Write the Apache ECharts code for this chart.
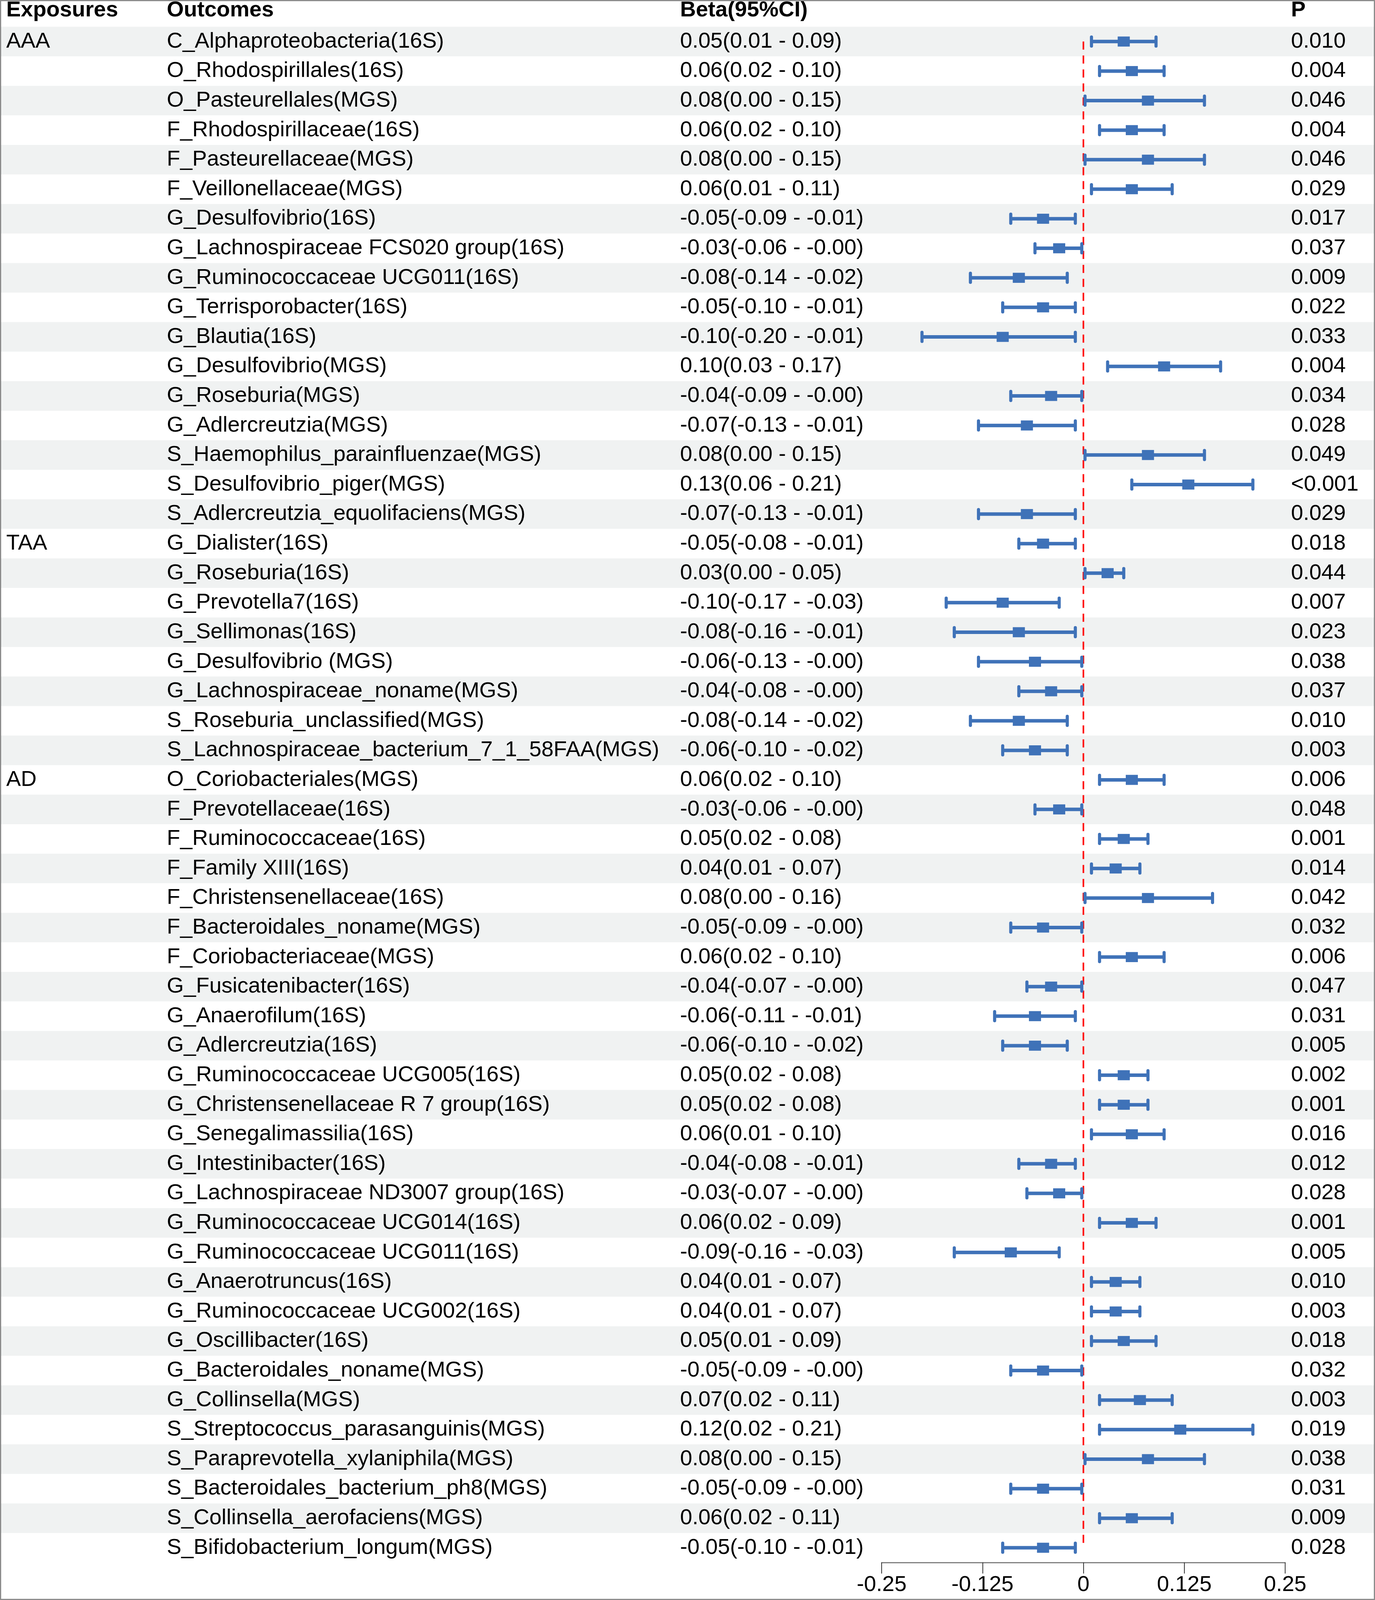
<!DOCTYPE html>
<html>
<head>
<meta charset="utf-8">
<script src="https://cdn.jsdelivr.net/npm/echarts@6/dist/echarts.min.js"></script>
<style>
html, body { margin: 0; padding: 0; background: #fff; overflow: hidden; }
#container { width: 100vw; height: 100vh; }
</style>
</head>
<body>
<div id="container"></div>
<script>
// exposure groups, in row order
const exposureNames = ['AAA', 'TAA', 'AD'];
const exposureCounts = [17, 8, 27];

const outcomes = [
    'C_Alphaproteobacteria(16S)', 'O_Rhodospirillales(16S)', 'O_Pasteurellales(MGS)',
    'F_Rhodospirillaceae(16S)', 'F_Pasteurellaceae(MGS)', 'F_Veillonellaceae(MGS)',
    'G_Desulfovibrio(16S)', 'G_Lachnospiraceae FCS020 group(16S)', 'G_Ruminococcaceae UCG011(16S)',
    'G_Terrisporobacter(16S)', 'G_Blautia(16S)', 'G_Desulfovibrio(MGS)', 'G_Roseburia(MGS)',
    'G_Adlercreutzia(MGS)', 'S_Haemophilus_parainfluenzae(MGS)', 'S_Desulfovibrio_piger(MGS)',
    'S_Adlercreutzia_equolifaciens(MGS)',
    'G_Dialister(16S)', 'G_Roseburia(16S)', 'G_Prevotella7(16S)', 'G_Sellimonas(16S)',
    'G_Desulfovibrio (MGS)', 'G_Lachnospiraceae_noname(MGS)', 'S_Roseburia_unclassified(MGS)',
    'S_Lachnospiraceae_bacterium_7_1_58FAA(MGS)',
    'O_Coriobacteriales(MGS)', 'F_Prevotellaceae(16S)', 'F_Ruminococcaceae(16S)', 'F_Family XIII(16S)',
    'F_Christensenellaceae(16S)', 'F_Bacteroidales_noname(MGS)', 'F_Coriobacteriaceae(MGS)',
    'G_Fusicatenibacter(16S)', 'G_Anaerofilum(16S)', 'G_Adlercreutzia(16S)',
    'G_Ruminococcaceae UCG005(16S)', 'G_Christensenellaceae R 7 group(16S)', 'G_Senegalimassilia(16S)',
    'G_Intestinibacter(16S)', 'G_Lachnospiraceae ND3007 group(16S)', 'G_Ruminococcaceae UCG014(16S)',
    'G_Ruminococcaceae UCG011(16S)', 'G_Anaerotruncus(16S)', 'G_Ruminococcaceae UCG002(16S)',
    'G_Oscillibacter(16S)', 'G_Bacteroidales_noname(MGS)', 'G_Collinsella(MGS)',
    'S_Streptococcus_parasanguinis(MGS)', 'S_Paraprevotella_xylaniphila(MGS)',
    'S_Bacteroidales_bacterium_ph8(MGS)', 'S_Collinsella_aerofaciens(MGS)', 'S_Bifidobacterium_longum(MGS)'
];

const beta = [
    0.05, 0.06, 0.08, 0.06, 0.08, 0.06, -0.05, -0.03, -0.08, -0.05, -0.10, 0.10, -0.04, -0.07, 0.08, 0.13, -0.07,
    -0.05, 0.03, -0.10, -0.08, -0.06, -0.04, -0.08, -0.06,
    0.06, -0.03, 0.05, 0.04, 0.08, -0.05, 0.06, -0.04, -0.06, -0.06, 0.05, 0.05, 0.06, -0.04, -0.03,
    0.06, -0.09, 0.04, 0.04, 0.05, -0.05, 0.07, 0.12, 0.08, -0.05, 0.06, -0.05
];

const lower = [
    0.01, 0.02, 0.002, 0.02, 0.002, 0.01, -0.09, -0.06, -0.14, -0.10, -0.20, 0.03, -0.09, -0.13, 0.002, 0.06, -0.13,
    -0.08, 0.002, -0.17, -0.16, -0.13, -0.08, -0.14, -0.10,
    0.02, -0.06, 0.02, 0.01, 0.002, -0.09, 0.02, -0.07, -0.11, -0.10, 0.02, 0.02, 0.01, -0.08, -0.07,
    0.02, -0.16, 0.01, 0.01, 0.01, -0.09, 0.02, 0.02, 0.002, -0.09, 0.02, -0.10
];

const upper = [
    0.09, 0.10, 0.15, 0.10, 0.15, 0.11, -0.01, -0.002, -0.02, -0.01, -0.01, 0.17, -0.002, -0.01, 0.15, 0.21, -0.01,
    -0.01, 0.05, -0.03, -0.01, -0.002, -0.002, -0.02, -0.02,
    0.10, -0.002, 0.08, 0.07, 0.16, -0.002, 0.10, -0.002, -0.01, -0.02, 0.08, 0.08, 0.10, -0.01, -0.002,
    0.09, -0.03, 0.07, 0.07, 0.09, -0.002, 0.11, 0.21, 0.15, -0.002, 0.11, -0.01
];

const pValues = [
    '0.010', '0.004', '0.046', '0.004', '0.046', '0.029', '0.017', '0.037', '0.009', '0.022', '0.033',
    '0.004', '0.034', '0.028', '0.049', '<0.001', '0.029',
    '0.018', '0.044', '0.007', '0.023', '0.038', '0.037', '0.010', '0.003',
    '0.006', '0.048', '0.001', '0.014', '0.042', '0.032', '0.006', '0.047', '0.031', '0.005', '0.002',
    '0.001', '0.016', '0.012', '0.028', '0.001', '0.005', '0.010', '0.003', '0.018', '0.032', '0.003',
    '0.019', '0.038', '0.031', '0.009', '0.028'
];

const xTicks = [-0.25, -0.125, 0, 0.125, 0.25];

window.onload = function () {
    const dom = document.getElementById('container');
    const myChart = echarts.init(dom, null, { renderer: 'canvas' });

    // layout is drawn for a 3520 x 4930 page and stretched to the real viewport
    const W = dom.clientWidth, H = dom.clientHeight;
    const sx = W / 3520, sy = H / 4930;

    const FONT = '"Liberation Sans", Arial, sans-serif';
    const FS = 56 * sx;
    const BLUE = '#3F72B8';
    const colExposure = 16 * sx, colOutcome = 427 * sx, colBeta = 1741 * sx, colP = 3305 * sx;

    // exposure label on the first row of each group
    const exposureOfRow = outcomes.map(() => '');
    let start = 0;
    exposureNames.forEach(function (name, i) {
        exposureOfRow[start] = name;
        start += exposureCounts[i];
    });

    const rows = outcomes.map((o, i) => i);
    const ciText = beta.map(function (b, i) {
        return b.toFixed(2) + '(' + lower[i].toFixed(2) + ' - ' + upper[i].toFixed(2) + ')';
    });

    function txt(s, x, y, bold) {
        return {
            type: 'text',
            x: x, y: y,
            style: {
                text: s, fill: '#000', fontSize: FS, fontFamily: FONT,
                fontWeight: bold ? 'bold' : 'normal',
                align: 'left', verticalAlign: 'middle'
            }
        };
    }

    const option = {
        animation: false,
        backgroundColor: '#fff',
        grid: {
            left: 2257 * sx,
            width: 1033 * sx,
            top: 82.5 * sy,
            height: 4732 * sy,
            outerBoundsMode: 'none'
        },
        xAxis: {
            type: 'value',
            min: xTicks[0],
            max: xTicks[xTicks.length - 1],
            interval: 0.125,
            splitLine: { show: false },
            axisLine: { show: true, onZero: false, lineStyle: { color: '#808080', width: 3 } },
            axisTick: { show: true, length: 34 * sy, lineStyle: { color: '#333', width: 2 } },
            axisLabel: {
                fontSize: FS, fontFamily: FONT, color: '#000', margin: 36 * sy,
                showMinLabel: true, showMaxLabel: true
            }
        },
        yAxis: {
            type: 'category',
            data: outcomes,
            inverse: true,
            show: false
        },
        graphic: [
            txt('Exposures', colExposure, 32 * sy, true),
            txt('Outcomes', colOutcome, 32 * sy, true),
            txt('Beta(95%CI)', colBeta, 32 * sy, true),
            txt('P', colP, 32 * sy, true),
            {
                type: 'rect',
                shape: { x: 1.5, y: 1.5, width: W - 3, height: H - 3 },
                style: { fill: null, stroke: '#8c8c8c', lineWidth: 3 },
                z: 100
            }
        ],
        series: [
            {
                // alternating row shading
                type: 'custom',
                coordinateSystem: 'cartesian2d',
                data: rows.map(i => [0, i]),
                encode: { x: 0, y: 1 },
                z: 0,
                silent: true,
                renderItem: function (params, api) {
                    const idx = api.value(1);
                    if (idx % 2 !== 0) return null;
                    const y = api.coord([0, idx])[1];
                    const h = api.size([0, 1])[1];
                    return {
                        type: 'rect',
                        shape: { x: 0, y: y - h / 2, width: api.getWidth(), height: h },
                        style: { fill: '#F0F2F2' }
                    };
                }
            },
            {
                // table text columns
                type: 'custom',
                coordinateSystem: 'cartesian2d',
                data: rows.map(i => [0, i]),
                encode: { x: 0, y: 1 },
                z: 1,
                silent: true,
                renderItem: function (params, api) {
                    const idx = api.value(1);
                    const y = api.coord([0, idx])[1];
                    const children = [
                        txt(outcomes[idx], colOutcome, y, false),
                        txt(ciText[idx], colBeta, y, false),
                        txt(pValues[idx], colP, y, false)
                    ];
                    if (exposureOfRow[idx]) children.push(txt(exposureOfRow[idx], colExposure, y, false));
                    return { type: 'group', children: children };
                }
            },
            {
                // reference line at 0
                type: 'line',
                data: [[0, 0], [0, outcomes.length - 1]],
                symbol: 'none',
                z: 2,
                silent: true,
                lineStyle: { color: '#FF0000', width: 4, type: [25 * sy, 18 * sy] }
            },
            {
                // confidence intervals with caps
                type: 'custom',
                coordinateSystem: 'cartesian2d',
                data: rows.map(i => [lower[i], upper[i], i]),
                encode: { x: [0, 1], y: 2 },
                z: 3,
                renderItem: function (params, api) {
                    const p1 = api.coord([api.value(0), api.value(2)]);
                    const p2 = api.coord([api.value(1), api.value(2)]);
                    const capH = 14 * sy;
                    const st = { stroke: BLUE, lineWidth: 9, fill: null };
                    const capSt = { stroke: BLUE, lineWidth: 8, lineCap: 'round', fill: null };
                    return {
                        type: 'group',
                        children: [
                            { type: 'line', shape: { x1: p1[0], y1: p1[1], x2: p2[0], y2: p2[1] }, style: st },
                            { type: 'line', shape: { x1: p1[0], y1: p1[1] - capH, x2: p1[0], y2: p1[1] + capH }, style: capSt },
                            { type: 'line', shape: { x1: p2[0], y1: p2[1] - capH, x2: p2[0], y2: p2[1] + capH }, style: capSt }
                        ]
                    };
                }
            },
            {
                type: 'scatter',
                data: rows.map(i => [beta[i], i]),
                symbol: 'rect',
                symbolSize: [31 * sx, 31 * sy],
                z: 4,
                itemStyle: { color: BLUE, opacity: 1 }
            }
        ]
    };

    myChart.setOption(option);
};
</script>
</body>
</html>
